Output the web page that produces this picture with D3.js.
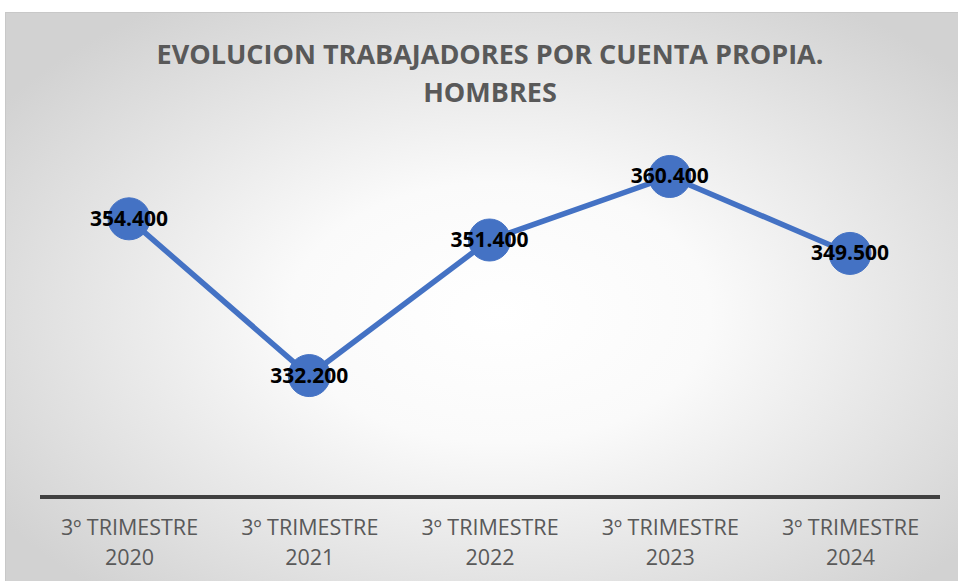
<!DOCTYPE html>
<html lang="es">
<head>
  <meta charset="UTF-8">
  <title>Evolucion trabajadores por cuenta propia. Hombres</title>
  <script src="https://d3js.org/d3.v7.min.js"></script>
</head>
<style>
  body{
    margin:0;
    background:white;
    font-family: "Open Sans", sans-serif;
  }
</style>
<body>
  <div id="chart"></div>
<script>
// data
var periods = ["3º TRIMESTRE 2020", "3º TRIMESTRE 2021", "3º TRIMESTRE 2022", "3º TRIMESTRE 2023", "3º TRIMESTRE 2024"];
var values = [354.4, 332.2, 351.4, 360.4, 349.5];
var valueLabels = ["354.400", "332.200", "351.400", "360.400", "349.500"];
var titleLines = ["EVOLUCION TRABAJADORES POR CUENTA PROPIA.", "HOMBRES"];

var width = 958, height = 581;

var svg = d3.select("#chart").append("svg")
  .attr("width", width)
  .attr("height", height)
  .attr("font-family", "'Open Sans', sans-serif");

// radial background like the spreadsheet chart
var grad = svg.append("defs").append("radialGradient")
  .attr("id", "bg")
  .attr("cx", "51%").attr("cy", "50%").attr("r", "62%");
grad.append("stop").attr("offset", "0%").attr("stop-color", "#ffffff");
grad.append("stop").attr("offset", "35%").attr("stop-color", "#fafafa");
grad.append("stop").attr("offset", "100%").attr("stop-color", "#d2d2d2");

svg.append("rect")
  .attr("x", 5.5).attr("y", 12.5)
  .attr("width", 970).attr("height", 600)
  .attr("fill", "url(#bg)")
  .attr("stroke", "#c8c8c8")
  .attr("stroke-width", 1);

// title
svg.append("g").selectAll("text")
  .data(titleLines)
  .enter().append("text")
  .attr("x", 490)
  .attr("y", function(d, i){ return 64 + i * 38; })
  .attr("text-anchor", "middle")
  .attr("font-size", 27)
  .attr("font-weight", "bold")
  .attr("fill", "#595959")
  .text(function(d){ return d; });

// scales
var xScale = d3.scalePoint()
  .domain(periods)
  .range([129, 850]);

var yScale = d3.scaleLinear()
  .domain([315, 365])
  .range([497, 144]);

// x axis: d3 places the ticks, labels are wrapped in two lines
var xAxis = d3.axisBottom(xScale).tickSize(0).tickFormat("");
var gx = svg.append("g")
  .attr("transform", "translate(0,497)")
  .call(xAxis)
  .attr("font-family", "'Open Sans', sans-serif");
gx.select(".domain").remove();
gx.selectAll(".tick text").remove();
gx.append("line")
  .attr("x1", 40).attr("x2", 940)
  .attr("stroke", "#404040")
  .attr("stroke-width", 4);
gx.selectAll(".tick").each(function(d){
  var parts = d.split(" ");
  var t = d3.select(this).append("text")
    .attr("text-anchor", "middle")
    .attr("fill", "#595959")
    .attr("font-size", 21.5);
  t.append("tspan").attr("x", 0).attr("y", 38).text(parts[0] + " " + parts[1]);
  t.append("tspan").attr("x", 0).attr("y", 68).text(parts[2]);
});

// line
var line = d3.line()
  .x(function(d, i){ return xScale(periods[i]); })
  .y(function(d){ return yScale(d); });

svg.append("path")
  .datum(values)
  .attr("d", line)
  .attr("fill", "none")
  .attr("stroke", "#4472C4")
  .attr("stroke-width", 5.5)
  .attr("stroke-linejoin", "round");

// markers
svg.append("g").selectAll("circle")
  .data(values)
  .enter().append("circle")
  .attr("cx", function(d, i){ return xScale(periods[i]); })
  .attr("cy", function(d){ return yScale(d); })
  .attr("r", 21)
  .attr("fill", "#4472C4")
  .attr("stroke", "#4472C4")
  .attr("stroke-width", 1);

// data labels
svg.append("g").selectAll("text")
  .data(values)
  .enter().append("text")
  .attr("x", function(d, i){ return xScale(periods[i]); })
  .attr("y", function(d){ return yScale(d) + 7; })
  .attr("text-anchor", "middle")
  .attr("font-size", 21)
  .attr("font-weight", "bold")
  .attr("fill", "#000000")
  .text(function(d, i){ return valueLabels[i]; });
</script>
</body>
</html>
